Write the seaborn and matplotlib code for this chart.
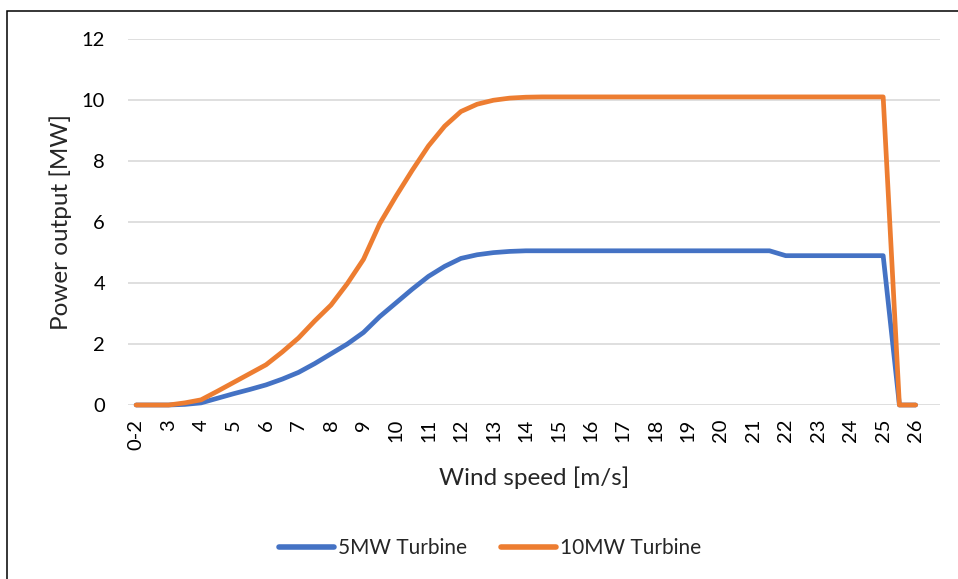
import numpy as np
import pandas as pd
import matplotlib
matplotlib.use("Agg")
import matplotlib.pyplot as plt
import seaborn as sns
from matplotlib.patches import Rectangle

# Wind speed categories (half-step bins, labelled every second bin)
wind_speed = ["0-2", "2.5", "3", "3.5", "4", "4.5", "5", "5.5", "6", "6.5",
              "7", "7.5", "8", "8.5", "9", "9.5", "10", "10.5", "11", "11.5",
              "12", "12.5", "13", "13.5", "14", "14.5", "15", "15.5", "16", "16.5",
              "17", "17.5", "18", "18.5", "19", "19.5", "20", "20.5", "21", "21.5",
              "22", "22.5", "23", "23.5", "24", "24.5", "25", "25.5", "26", "26.5"]

# Power output [MW] per bin
power_5mw = [0.0, 0.0, 0.0, 0.02, 0.07, 0.22, 0.37, 0.51, 0.66, 0.85,
             1.07, 1.36, 1.68, 2.0, 2.38, 2.9, 3.35, 3.8, 4.22, 4.55,
             4.81, 4.93, 5.0, 5.04, 5.06, 5.06, 5.06, 5.06, 5.06, 5.06,
             5.06, 5.06, 5.06, 5.06, 5.06, 5.06, 5.06, 5.06, 5.06, 5.06,
             4.9, 4.9, 4.9, 4.9, 4.9, 4.9, 4.9, 0.0, 0.0, np.nan]
power_10mw = [0.0, 0.0, 0.0, 0.07, 0.17, 0.45, 0.74, 1.03, 1.32, 1.74,
              2.2, 2.76, 3.28, 3.98, 4.78, 5.95, 6.85, 7.7, 8.5, 9.15,
              9.63, 9.87, 10.0, 10.07, 10.1, 10.11, 10.11, 10.11, 10.11, 10.11,
              10.11, 10.11, 10.11, 10.11, 10.11, 10.11, 10.11, 10.11, 10.11, 10.11,
              10.11, 10.11, 10.11, 10.11, 10.11, 10.11, 10.11, 0.0, 0.0, np.nan]

series_names = ["5MW Turbine", "10MW Turbine"]
series_colors = ["#4472C4", "#ED7D31"]

idx = np.arange(len(wind_speed))
df = pd.concat([
    pd.DataFrame({"idx": idx, "power": power_5mw, "turbine": series_names[0]}),
    pd.DataFrame({"idx": idx, "power": power_10mw, "turbine": series_names[1]}),
]).dropna()

sns.set_theme(style="white")
plt.rcParams["font.family"] = ["Lato", "DejaVu Sans"]

W, H = 958, 579
fig = plt.figure(figsize=(W / 100, H / 100), dpi=100)
ax = fig.add_axes([128 / W, 1 - 405 / H, (940 - 128) / W, (405 - 39.3) / H])

sns.lineplot(data=df, x="idx", y="power", hue="turbine",
             palette=dict(zip(series_names, series_colors)),
             linewidth=3.4, ax=ax, errorbar=None)

for ln in ax.lines:
    ln.set_clip_on(False)
    ln.set_solid_capstyle("round")
    ln.set_solid_joinstyle("round")

ax.set_xlim(-0.5, len(wind_speed) - 0.5)
ax.set_ylim(0, 12)
ax.set_yticks(np.arange(0, 13, 2))
ax.set_xticks(idx[::2])
ax.set_xticklabels(wind_speed[::2], rotation=90)
ax.tick_params(axis="both", length=0, labelsize=14.5, colors="#000000")
ax.tick_params(axis="y", pad=16.5)
ax.tick_params(axis="x", pad=10)
ax.grid(axis="y", color="#D9D9D9", linewidth=1.2)
ax.set_axisbelow(True)
for s in ax.spines.values():
    s.set_visible(False)

ax.set_xlabel("Wind speed [m/s]", fontsize=17.5, labelpad=12)
ax.set_ylabel("Power output [MW]", fontsize=17.5, labelpad=7)

handles, labels = ax.get_legend_handles_labels()
ax.get_legend().remove()
leg = fig.legend(handles, labels, loc="center", bbox_to_anchor=(490 / W, 1 - 548 / H),
                 ncol=2, frameon=False, fontsize=15, handlelength=2.65,
                 handletextpad=0.2, columnspacing=1.6)
for h in leg.legend_handles:
    h.set_linewidth(4)
    h.set_solid_capstyle("round")

fig.add_artist(Rectangle((6.5 / W, -0.05), 1.2, 1.05 - 10.5 / H,
                         transform=fig.transFigure, fill=False,
                         edgecolor="black", linewidth=1.1))

fig.savefig("out.png", dpi=100)
